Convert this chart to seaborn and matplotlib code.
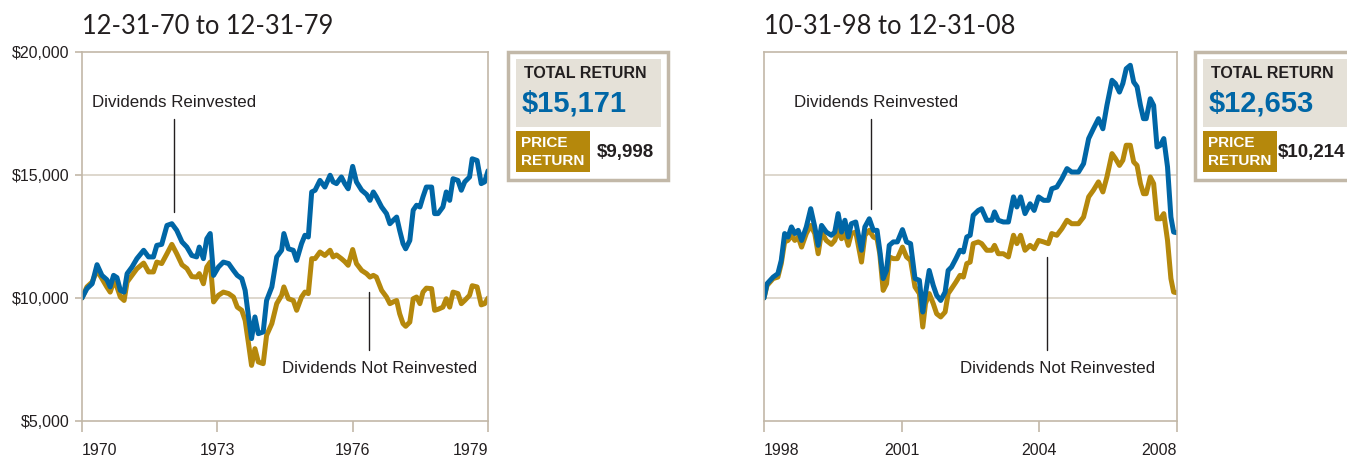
import numpy as np
import pandas as pd
import matplotlib
matplotlib.use("Agg")
import matplotlib.pyplot as plt
import seaborn as sns
from matplotlib.patches import Rectangle

# =========================
# DATA
# =========================

# 12-31-70 to 12-31-79, months since start
left_months = [0, 1.3, 2.7, 4.0, 5.3, 6.6, 7.5, 8.4, 9.3, 10.2, 11.2, 12.0, 13.3, 14.6, 16.4,
               17.7, 19.0, 19.9, 21.2, 22.6, 23.9, 25.2, 26.6, 27.9, 29.2, 30.5, 31.2, 32.3,
               33.2, 34.1, 35.0, 36.3, 37.6, 39.0, 40.3, 41.3, 42.5, 43.4, 44.3, 45.1, 46.0,
               46.9, 48.2, 49.1, 50.5, 51.8, 53.1, 53.7, 54.9, 56.2, 57.1, 58.4, 59.3, 60.2,
               61.1, 62.0, 63.3, 64.6, 66.0, 66.8, 67.7, 69.0, 69.9, 70.8, 72.0, 73.0, 74.4,
               75.7, 76.6, 77.5, 78.3, 79.7, 81.0, 81.9, 82.8, 83.7, 84.5, 85.4, 86.1, 87.2,
               88.1, 89.0, 89.9, 90.7, 91.6, 93.0, 93.8, 94.7, 96.0, 96.9, 97.8, 98.7, 100.0,
               100.9, 101.8, 103.1, 103.8, 105.1, 106.2, 107.1, 108]
left_reinvested = [10000, 10380, 10580, 11355, 10920, 10745, 10450, 10920, 10830, 10310, 10240,
                   10990, 11260, 11600, 11940, 11670, 11670, 12140, 12180, 12950, 13020, 12750,
                   12280, 12070, 11730, 11670, 12070, 11600, 12410, 12620, 10920, 11260, 11460,
                   11400, 11120, 10920, 10790, 10310, 9230, 8350, 9230, 8550, 8620, 9900, 10450,
                   11670, 11940, 12620, 12000, 11940, 11530, 12210, 12550, 12480, 14310, 14380,
                   14780, 14510, 14990, 14720, 14650, 14920, 14650, 14440, 15350, 14720, 14380,
                   14210, 13970, 14310, 14110, 13700, 13430, 13020, 13160, 13290, 12750, 12210,
                   12000, 12340, 13570, 13770, 13700, 14110, 14510, 14510, 13430, 13430, 13700,
                   14310, 13970, 14850, 14780, 14380, 14720, 14920, 15660, 15590, 14650, 14720,
                   15171]
left_price = [10000, 10450, 10650, 11120, 10790, 10450, 10240, 10650, 10450, 10040, 9900, 10650,
              10920, 11190, 11420, 11060, 11060, 11460, 11400, 11800, 12180, 11800, 11350, 11200,
              10870, 10850, 10990, 10580, 11260, 11460, 9840, 10110, 10240, 10180, 10040, 9630,
              9500, 9090, 8140, 7260, 7940, 7400, 7330, 8480, 8960, 9770, 10110, 10450, 9970,
              9900, 9500, 10040, 10240, 10180, 11600, 11600, 11870, 11730, 11940, 11670, 11750,
              11600, 11480, 11330, 11970, 11400, 11120, 10990, 10850, 10920, 10850, 10310, 10040,
              9770, 9840, 9900, 9360, 8960, 8850, 9020, 9970, 10040, 9770, 10240, 10400, 10380,
              9500, 9540, 9630, 9970, 9630, 10240, 10180, 9770, 9900, 10110, 10500, 10450, 9720,
              9770, 9998]

# 10-31-98 to 12-31-08, months since start
right_months = [0, 0.9, 2.7, 4.1, 5.1, 6.1, 7.1, 8.1, 9.1, 10.1, 11.1, 12.5, 13.8, 15.0, 16.0,
                17.0, 18.4, 19.9, 20.9, 21.9, 22.9, 23.9, 24.9, 25.8, 27.1, 28.8, 29.8, 31.1,
                32.3, 33.4, 34.2, 35.2, 36.2, 37.0, 38.2, 39.4, 40.9, 42.1, 43.3, 44.6, 45.9,
                46.9, 47.7, 48.8, 50.0, 51.0, 52.2, 53.5, 54.4, 55.4, 56.7, 57.9, 58.9, 59.9,
                60.9, 61.8, 63.3, 64.3, 65.8, 67.3, 68.1, 69.2, 70.7, 72.2, 73.7, 74.7, 75.8,
                77.1, 78.6, 79.8, 81.1, 82.6, 84.0, 85.0, 86.5, 88.0, 89.5, 90.9, 92.9, 94.4,
                95.9, 97.3, 98.8, 100.1, 101.3, 102.8, 103.8, 105.0, 106.0, 107.0, 108.2, 109.2,
                110.2, 111.2, 112.1, 112.9, 114.1, 115.1, 116.1, 117.1, 118.1, 119.2, 120.2,
                121.0, 122.0]
right_reinvested = [10000, 10580, 10850, 10990, 11530, 12620, 12480, 12890, 12620, 12750, 12340,
                    12890, 13630, 12890, 12140, 12950, 12680, 12550, 12680, 13430, 12680, 13160,
                    12480, 13020, 13090, 11940, 12890, 13220, 12750, 12750, 11940, 10790, 11120,
                    12140, 12280, 12280, 12780, 12280, 12210, 10790, 10720, 9430, 10180, 11120,
                    10510, 10110, 9900, 10240, 11120, 11260, 11600, 11940, 11870, 12480, 12550,
                    13360, 13560, 13630, 13160, 13160, 13500, 13160, 13090, 13090, 14110, 13700,
                    14110, 13430, 13830, 13560, 14110, 13970, 13970, 14440, 14510, 14850, 15260,
                    15120, 15120, 15460, 16480, 16880, 17290, 16880, 17830, 18850, 18720, 18370,
                    18720, 19320, 19460, 18780, 18590, 17830, 17290, 17290, 18100, 17830, 16140,
                    16210, 16480, 15330, 13290, 12680, 12653]
right_price = [10000, 10510, 10790, 10850, 11400, 12280, 12340, 12550, 12340, 12480, 12070, 12620,
               12950, 12620, 11800, 12680, 12340, 12180, 12340, 12750, 12410, 12620, 12140, 12620,
               12680, 11460, 12550, 12750, 12480, 12410, 11800, 10310, 10580, 11670, 11600, 11600,
               12070, 11670, 11530, 10450, 10180, 8820, 9770, 10180, 9770, 9360, 9230, 9430,
               10180, 10380, 10650, 10920, 10850, 11400, 11460, 12210, 12280, 12210, 11940, 11940,
               12140, 11800, 11800, 11670, 12550, 12210, 12550, 11940, 12140, 12000, 12340, 12280,
               12210, 12620, 12550, 12820, 13160, 13020, 13020, 13290, 14110, 14380, 14720, 14310,
               14920, 15870, 15670, 15390, 15600, 16210, 16210, 15530, 15390, 14650, 14240, 14240,
               14920, 14650, 13220, 13220, 13430, 12340, 10790, 10240, 10214]

left_ticks = ["1970", "1973", "1976", "1979"]
right_ticks = ["1998", "2001", "2004", "2008"]
y_ticks = [5000, 10000, 15000, 20000]
y_labels = ["$5,000", "$10,000", "$15,000", "$20,000"]

titles = ["12-31-70 to 12-31-79", "10-31-98 to 12-31-08"]
total_returns = ["$15,171", "$12,653"]
price_returns = ["$9,998", "$10,214"]

BLUE = "#0066a6"
GOLD = "#b5880c"
TAN = "#c2b8a8"
GRID = "#d8d1c5"
BOXGRAY = "#e5e1d8"
INK = "#231f20"

SANS = ["Liberation Sans", "DejaVu Sans"]

sns.set_style("white")

W, H = 1347, 458
fig = plt.figure(figsize=(W / 100, H / 100), dpi=100)


def fx(x):
    return x / W


def fy(y):
    return 1 - y / H


def draw_panel(rect, months, reinv, price, tick_labels, show_y):
    ax = fig.add_axes(rect)
    df = pd.DataFrame({
        "month": list(months) * 2,
        "value": list(reinv) + list(price),
        "series": ["Reinvested"] * len(months) + ["Price"] * len(months),
    })
    sns.lineplot(data=df, x="month", y="value", hue="series",
                 palette={"Reinvested": BLUE, "Price": GOLD},
                 hue_order=["Price", "Reinvested"],
                 linewidth=3.6, legend=False, ax=ax)
    end = months[-1]
    ax.set_xlim(0, end)
    ax.set_ylim(5000, 20000)
    for v in [10000, 15000]:
        ax.axhline(v, color=GRID, lw=1.2, zorder=0)
    for s in ax.spines.values():
        s.set_color(TAN)
        s.set_linewidth(1.2)
    ax.set_xticks(np.linspace(0, end, len(tick_labels)))
    ax.set_xticklabels(tick_labels, family=SANS, fontsize=11.5, color=INK)
    labs = ax.get_xticklabels()
    labs[0].set_ha("left")
    labs[-1].set_ha("right")
    ax.tick_params(axis="x", length=8, width=1.2, color=TAN, pad=8, bottom=True)
    ax.set_yticks(y_ticks)
    if show_y:
        ax.set_yticklabels(y_labels, family=SANS, fontsize=11.5, color=INK)
        ax.tick_params(axis="y", length=5, width=1.2, color=TAN, pad=4, left=True)
    else:
        ax.set_yticklabels([])
        ax.tick_params(axis="y", length=0)
    ax.set_xlabel("")
    ax.set_ylabel("")
    return ax


axL = draw_panel([fx(82), fy(421), fx(406), 369 / H], left_months, left_reinvested, left_price,
                 left_ticks, True)
axR = draw_panel([fx(764), fy(421), fx(413), 369 / H], right_months, right_reinvested, right_price,
                 right_ticks, False)

# annotations
note = dict(family=SANS, fontsize=12.2, color=INK, ha="center", va="center")
axL.text(24.6, 17930, "Dividends Reinvested", **note)
axL.plot([24.6, 24.6], [13500, 17290], color=INK, lw=1)
axL.text(79.2, 7130, "Dividends Not Reinvested", **note)
axL.plot([76.4, 76.4], [7870, 10240], color=INK, lw=1)

axR.text(33.2, 17930, "Dividends Reinvested", **note)
axR.plot([31.5, 31.5], [13630, 17290], color=INK, lw=1)
axR.text(86.8, 7130, "Dividends Not Reinvested", **note)
axR.plot([83.5, 83.5], [7900, 11670], color=INK, lw=1)

# titles
for i, x0 in enumerate([82, 764]):
    fig.text(fx(x0), fy(34), titles[i], family=["Lato", "DejaVu Sans"], fontsize=18.4,
             color=INK, ha="left", va="baseline")

# return boxes
for i, x0 in enumerate([508, 1195]):
    fig.patches.append(Rectangle((fx(x0), fy(180)), fx(160), 128 / H, transform=fig.transFigure,
                                 facecolor="white", edgecolor=TAN, lw=2.5))
    fig.patches.append(Rectangle((fx(x0 + 8), fy(127)), fx(145), 68 / H, transform=fig.transFigure,
                                 facecolor=BOXGRAY, edgecolor="none"))
    fig.patches.append(Rectangle((fx(x0 + 8), fy(172)), fx(74), 41 / H, transform=fig.transFigure,
                                 facecolor=GOLD, edgecolor="none"))
    fig.text(fx(x0 + 16), fy(74), "TOTAL RETURN", family=SANS, fontweight="bold", fontsize=11.5,
             color=INK, ha="left", va="center")
    fig.text(fx(x0 + 14), fy(104), total_returns[i], family=SANS, fontweight="bold", fontsize=21,
             color=BLUE, ha="left", va="center")
    fig.text(fx(x0 + 13), fy(143), "PRICE", family=SANS, fontweight="bold", fontsize=11,
             color="white", ha="left", va="center")
    fig.text(fx(x0 + 13), fy(161), "RETURN", family=SANS, fontweight="bold", fontsize=11,
             color="white", ha="left", va="center")
    fig.text(fx(x0 + 89 if i == 0 else x0 + 83), fy(153), price_returns[i], family=SANS,
             fontweight="bold", fontsize=13.5, color=INK, ha="left", va="center")

fig.savefig("out.png", dpi=100)
